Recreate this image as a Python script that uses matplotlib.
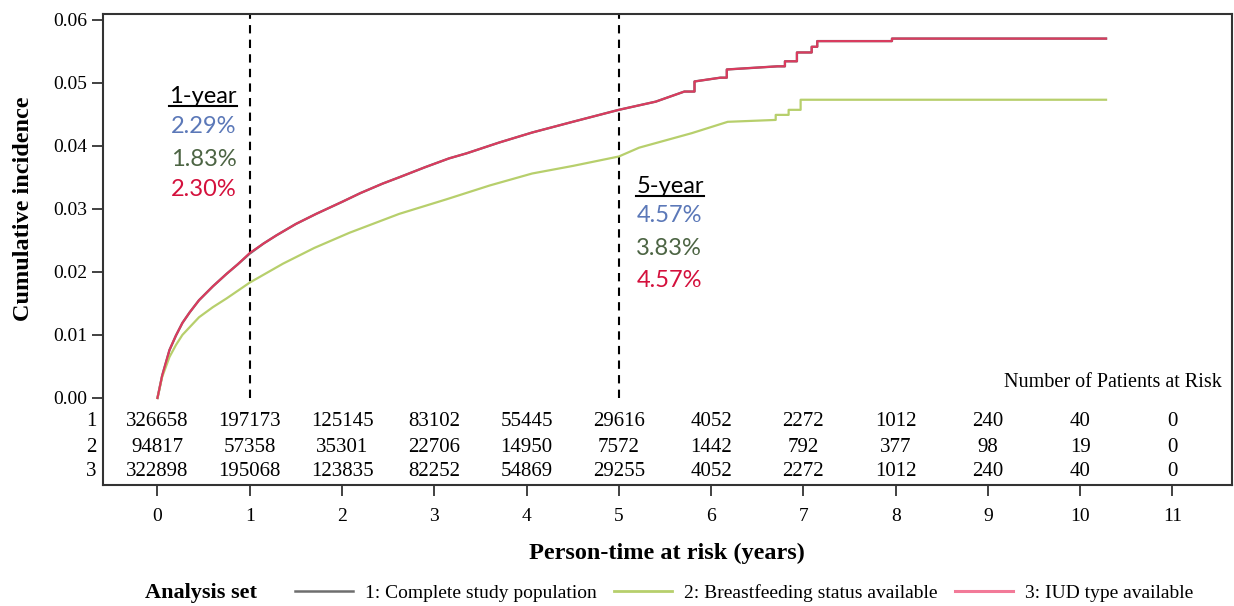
import matplotlib.pyplot as plt
from matplotlib.lines import Line2D
import matplotlib.transforms as mtransforms

plt.rcParams["font.family"] = "Liberation Serif"

# Cumulative incidence (time in years); repeated times are steps
t_full = [0, 0.05, 0.13, 0.2, 0.27, 0.35, 0.45, 0.6, 0.75, 0.87, 1.0, 1.15, 1.29, 1.5,
          1.72, 2.0, 2.2, 2.44, 2.62, 2.9, 3.16, 3.35, 3.7, 4.06, 4.5, 5.0, 5.4,
          5.71, 5.82, 5.82, 6.1, 6.17, 6.17, 6.72, 6.8, 6.8, 6.93, 6.93,
          7.09, 7.09, 7.15, 7.15, 7.96, 7.96, 10.28]
ci_complete = [0, 0.0035, 0.0076, 0.0099, 0.0119, 0.0136, 0.0155, 0.0177, 0.0197, 0.0212,
               0.0229, 0.0245, 0.0258, 0.0276, 0.0292, 0.0311, 0.0325, 0.0340, 0.0350,
               0.0366, 0.0380, 0.0388, 0.0405, 0.0421, 0.0438, 0.0457, 0.0470,
               0.0486, 0.0486, 0.0502, 0.0508, 0.0508, 0.0521, 0.0526, 0.0526,
               0.0534, 0.0534, 0.0548, 0.0548, 0.0557, 0.0557, 0.0566, 0.0566,
               0.0570, 0.0570]
ci_iud = [0, 0.0035, 0.0076, 0.0099, 0.0119, 0.0136, 0.0155, 0.0177, 0.0197, 0.0212,
          0.0230, 0.0245, 0.0258, 0.0276, 0.0292, 0.0311, 0.0325, 0.0340, 0.0350,
          0.0366, 0.0380, 0.0388, 0.0405, 0.0421, 0.0438, 0.0457, 0.0470,
          0.0486, 0.0486, 0.0502, 0.0508, 0.0508, 0.0521, 0.0526, 0.0526,
          0.0534, 0.0534, 0.0548, 0.0548, 0.0557, 0.0557, 0.0566, 0.0566,
          0.0570, 0.0570]

t_bf = [0, 0.05, 0.13, 0.2, 0.27, 0.45, 0.6, 0.75, 1.0, 1.36, 1.7, 2.08, 2.62, 3.13, 3.6,
        4.06, 4.5, 5.0, 5.22, 5.79, 6.18, 6.7, 6.7, 6.84, 6.84, 6.97, 6.97, 10.28]
ci_bf = [0, 0.0033, 0.0065, 0.0084, 0.0100, 0.0128, 0.0144, 0.0158, 0.0183, 0.0213,
         0.0238, 0.0262, 0.0292, 0.0315, 0.0337, 0.0356, 0.0368, 0.0383, 0.0397,
         0.0420, 0.0438, 0.0441, 0.0449, 0.0449, 0.0457, 0.0457, 0.0473, 0.0473]

series_labels = ["1: Complete study population", "2: Breastfeeding status available",
                 "3: IUD type available"]

# Number at risk table
risk_times = list(range(12))
risk_complete = [326658, 197173, 125145, 83102, 55445, 29616, 4052, 2272, 1012, 240, 40, 0]
risk_bf = [94817, 57358, 35301, 22706, 14950, 7572, 1442, 792, 377, 98, 19, 0]
risk_iud = [322898, 195068, 123835, 82252, 54869, 29255, 4052, 2272, 1012, 240, 40, 0]

one_year = ["2.29%", "1.83%", "2.30%"]
five_year = ["4.57%", "3.83%", "4.57%"]

c_complete = "#6e6e6e"
c_bf = "#b7cf6c"
c_iud = "#dc3a5e"
text_colors = ["#5b78b8", "#4c6443", "#d4103c"]

fig = plt.figure(figsize=(12.34, 6.06), dpi=100)
ax = fig.add_axes([0.0835, 0.1997, 0.9145, 0.7772])

ax.plot(t_full, ci_complete, color=c_complete, lw=1.7, zorder=3)
ax.plot(t_bf, ci_bf, color=c_bf, lw=1.6, zorder=3)
ax.plot(t_full, ci_iud, color=c_iud, lw=1.5, zorder=4)

ax.set_xlim(-0.59, 11.64)
ax.set_ylim(-0.0138, 0.0609)
ax.set_yticks([0, 0.01, 0.02, 0.03, 0.04, 0.05, 0.06])
ax.set_yticklabels([f"{v:.2f}" for v in ax.get_yticks()])
ax.set_xticks(risk_times)
ax.tick_params(direction="out", length=8, width=1.3, labelsize=14, color="#333333")
ax.tick_params(axis="x", pad=8.5)
for s in ax.spines.values():
    s.set_linewidth(1.5)
    s.set_color("#333333")

# reference lines at 1 and 5 years
for xv in (1, 5):
    ax.plot([xv, xv], [0, 0.0609], color="black", lw=1.5, ls=(0, (4, 3)), zorder=2)

ax.set_xlabel("Person-time at risk (years)", fontsize=17.5, fontweight="bold", labelpad=13)
ax.set_ylabel("Cumulative incidence", fontsize=17.5, fontweight="bold")
ax.yaxis.set_label_coords(-0.061, 0.586)

# at-risk table inside the frame
row_y = [-0.0038, -0.0078, -0.0117]
lab_trans = mtransforms.blended_transform_factory(ax.transAxes, ax.transData)
for k, (yy, row) in enumerate(zip(row_y, [risk_complete, risk_bf, risk_iud])):
    for tx, n in zip(risk_times, row):
        ax.text(tx, yy, str(n), ha="center", va="center", fontsize=15)
    ax.text(-0.006, yy, str(k + 1), ha="right", va="center", fontsize=15,
            transform=lab_trans)
ax.text(11.53, 0.0025, "Number of Patients at Risk", ha="right", va="center", fontsize=14.5)

# 1-year and 5-year estimates
def estimate_block(x, y_head, y_vals, head, vals, ha):
    h = ax.text(x, y_head, head, ha=ha, va="center", fontsize=17, family="Lato")
    for yy, v, c in zip(y_vals, vals, text_colors):
        ax.text(x, yy, v, ha=ha, va="center", fontsize=17, family="Lato", color=c)
    return h

h1 = estimate_block(0.86, 0.0478, [0.0430, 0.0379, 0.0330], "1-year", one_year, "right")
h5 = estimate_block(5.19, 0.0335, [0.0289, 0.0237, 0.0186], "5-year", five_year, "left")

fig.canvas.draw()
r = fig.canvas.get_renderer()
for h in (h1, h5):
    bb = h.get_window_extent(r)
    fig.add_artist(Line2D([bb.x0 / fig.bbox.width, bb.x1 / fig.bbox.width],
                          [(bb.y0 + 1) / fig.bbox.height] * 2,
                          color="black", lw=1.5))

handles = [Line2D([], [], color=c_complete, lw=1.8),
           Line2D([], [], color=c_bf, lw=2),
           Line2D([], [], color="#f27a98", lw=2.2)]
fig.legend(handles, series_labels, ncol=3, loc="center", bbox_to_anchor=(0.603, 0.022),
           frameon=False, fontsize=14, handlelength=3.0, columnspacing=0.9,
           handletextpad=0.6)
fig.text(0.1175, 0.022, "Analysis set", fontsize=16, fontweight="bold", va="center")

fig.savefig("out.png", dpi=100)
